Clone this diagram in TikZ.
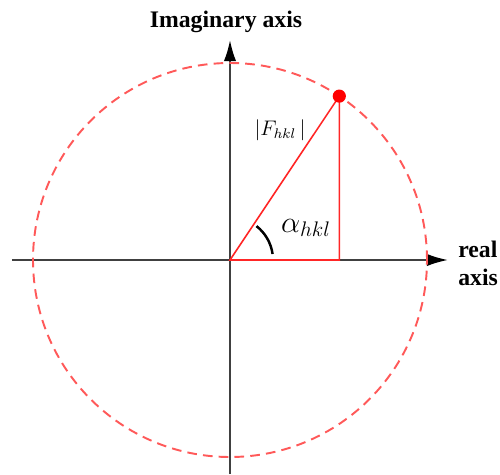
\documentclass[tikz,border=0pt]{standalone}
\usepackage{fontspec}
\setmainfont{Liberation Serif}
\usetikzlibrary{arrows.meta, positioning}

\begin{document}
\begin{tikzpicture}[x=0.02cm, y=0.02cm, >={Latex[length=12pt, width=7pt, color=black]},
  axis/.style={->, draw=black!75, line width=1.1pt},
  ring/.style={draw=red!65!white, dash pattern=on 5.5pt off 3.5pt, line width=1.1pt},
  side/.style={draw=red!85!white, line width=0.9pt},
  lbl/.style={font=\fontsize{13.5}{15.4}\selectfont\bfseries, inner sep=0pt, align=left}]

\useasboundingbox (-230,-214) rectangle (270,260);

% --- axes
\coordinate (O) at (0,0);
\coordinate (xl) at (-218,0);
\coordinate (xr) at (218,0);
\coordinate (yb) at (0,-214);
\coordinate (yt) at (0,220);
\draw[axis] (xl) -- (xr);
\draw[axis] (yb) -- (yt);

% --- circle of constant modulus
\draw[ring] (O) circle[radius=197];

% --- structure factor
\coordinate (P) at (56.3:197);
\coordinate (Q) at (P |- O);
\draw[side] (O) -- (P) -- (Q) -- cycle;
\node[circle, fill=red, inner sep=0pt, minimum size=7.5pt] (dot) at (P) {};
\draw[black, line width=1.4pt] ([shift={(8:43)}]O) arc[start angle=8, end angle=52, radius=43];

% --- labels
\node[anchor=base, font=\fontsize{12}{14}\selectfont] (modF) at (50,125) {$|F_{hkl}\,|$};
\node[anchor=base west, font=\fontsize{18}{20}\selectfont] (phase) at (45,28) {$\alpha_{hkl}$};
\node[lbl, anchor=base] (imag) at (-4,233) {Imaginary axis};
\node[lbl, anchor=base west] (real) at (228,-25) {real\\axis};
\end{tikzpicture}
\end{document}
